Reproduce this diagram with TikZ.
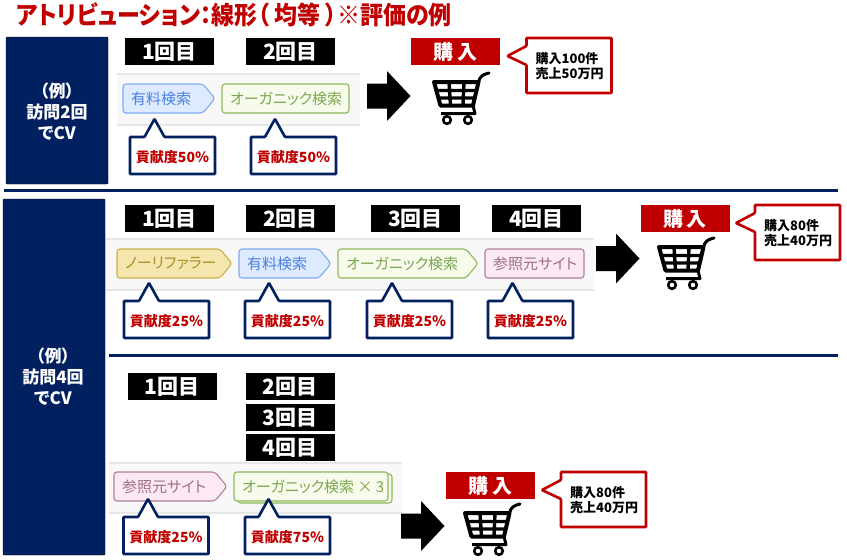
\documentclass[tikz,border=0pt]{standalone}
\usepackage{fontspec}
\setmainfont{Noto Sans CJK JP}[RawFeature=+palt]
\usetikzlibrary{calc}

\definecolor{navyblue}{HTML}{002060}
\definecolor{darkred}{HTML}{C00000}
\definecolor{bandgray}{HTML}{F8F8F8}
\definecolor{bandline}{HTML}{E6E6E6}
\definecolor{bluedraw}{HTML}{7FAAF5}
\definecolor{bluefill}{HTML}{DDEAFF}
\definecolor{bluetext}{HTML}{4A82DC}
\definecolor{greendraw}{HTML}{8DB85C}
\definecolor{greenfill}{HTML}{F6FBEB}
\definecolor{greentext}{HTML}{7DA650}
\definecolor{yellowdraw}{HTML}{CBB04F}
\definecolor{yellowfill}{HTML}{F4E6AC}
\definecolor{yellowtext}{HTML}{A88F2E}
\definecolor{pinkdraw}{HTML}{B07F9B}
\definecolor{pinkfill}{HTML}{FDE9F3}
\definecolor{pinktext}{HTML}{9E6E87}

\tikzset{
    px/.style={font=\bfseries\fontsize{#1}{#1}\selectfont},
    countbox/.style={fill=black, text=white, px=21, minimum width=89pt, minimum height=27pt, inner sep=0pt},
    buybox/.style={fill=darkred, text=white, px=20, minimum width=89pt, minimum height=27pt, inner sep=0pt},
    visitbox/.style={fill=navyblue, rounded corners=1pt},
    visittext/.style={text=white, px=17, align=center, inner sep=0pt},
    band/.style={fill=bandgray},
    bandedge/.style={draw=bandline, line width=1.5pt},
    bigarrow/.style={fill=black},
    rule/.style={draw=navyblue, line width=3pt},
    bluetag/.style={draw=bluedraw, fill=bluefill, text=bluetext},
    greentag/.style={draw=greendraw, fill=greenfill, text=greentext},
    yellowtag/.style={draw=yellowdraw, fill=yellowfill, text=yellowtext},
    pinktag/.style={draw=pinkdraw, fill=pinkfill, text=pinktext},
}

% source tag with a pointed right end
\newcommand{\arrowtag}[6]{
    \draw[#2, line width=1.1pt, rounded corners=3pt]
        (#3,#5) -- ($(#4,#5)+(-12,0)$) -- ($(#4,#5)+(0,14.5)$) -- ($(#4,#5)+(-12,29)$) -- ($(#3,#5)+(0,29)$) -- cycle;
    \node[#2, draw=none, fill=none, anchor=west, inner sep=0pt, font=\fontsize{15}{15}\selectfont] (#1) at ($(#3,#5)+(8,14.5)$) {#6};
}
% source tag with a plain round box
\newcommand{\roundtag}[6]{
    \draw[#2, line width=1.1pt, rounded corners=3pt] (#3,#5) rectangle ($(#4,#5)+(0,29)$);
    \node[#2, draw=none, fill=none, anchor=west, inner sep=0pt, font=\fontsize{15}{15}\selectfont] (#1) at ($(#3,#5)+(8,14.5)$) {#6};
}
% credit callout, the tip points up
\newcommand{\creditcallout}[5]{
    \draw[draw=navyblue, fill=white, line width=2.6pt, rounded corners=0.8pt]
        (#2,#3) -- ($(#4,#3)+(-10,0)$) -- ($(#4,#3)+(0,-18)$) -- ($(#4,#3)+(10,0)$) -- ($(#2,#3)+(85,0)$)
        -- ($(#2,#3)+(85,37)$) -- ($(#2,#3)+(0,37)$) -- cycle;
    \node[text=darkred, px=14, inner sep=0pt] (#1) at ($(#2,#3)+(42.5,20)$) {#5};
}
% purchase callout, the tip points left
\newcommand{\salescallout}[4]{
    \draw[draw=darkred, fill=white, line width=2.6pt, rounded corners=0.8pt]
        (#2,#3) -- ($(#2,#3)+(85,0)$) -- ($(#2,#3)+(85,55)$) -- ($(#2,#3)+(0,55)$)
        -- ($(#2,#3)+(0,27)$) -- ($(#2,#3)+(-19,18)$) -- ($(#2,#3)+(0,8)$) -- cycle;
    \node[px=13, align=left, anchor=west, inner sep=0pt] (#1) at ($(#2,#3)+(9,28)$) {#4};
}
% shopping cart, origin at its top left
\newcommand{\cart}[2]{
    \begin{scope}[shift={(#1,#2)}, line join=round]
        \draw[line width=4pt, fill=white] (2,10) -- (46.5,10) -- (41,33.5) -- (8.5,33.5) -- cycle;
        \draw[line width=3.4pt] (3.5,18.5) -- (45,18.5) (5.5,26) -- (43,26) (17,10) -- (18.5,33.5) (32,10) -- (31,33.5);
        \draw[line width=3pt, line cap=round] (46.5,10) .. controls (48,4) and (51,2.5) .. (57,1);
        \draw[line width=3pt] (41,33.5) -- (43,41.5) -- (9,41.5);
        \foreach \wheelx in {15,36}
            \draw[line width=2.6pt, fill=white] (\wheelx,48) circle (3.8pt);
    \end{scope}
}

\begin{document}
\begin{tikzpicture}[x=1pt, y=-1pt]
    \useasboundingbox (0,0) rectangle (847,560);

    % Title
    \node[anchor=west, text=darkred, px=25, inner sep=0pt] (title) at (16,15) {\scalebox{0.92}[1]{アトリビューション：線形（ 均等 ）※評価の例}};

    % Left boxes and rules
    \draw[visitbox] (6,37) rectangle (108,184);
    \draw[visitbox] (3,199) rectangle (105,555);
    \node[visittext] (visitone) at (57,112) {（例）\\[4pt]訪問2回\\[4pt]でCV};
    \node[visittext] (visittwo) at (53,377) {（例）\\[4pt]訪問4回\\[4pt]でCV};
    \draw[rule] (4,190.5) -- (838,190.5);
    \draw[rule] (109,355) -- (838,355);

    % Gray bands behind the tags
    \foreach \xa/\xb/\ya/\yb in {117/360/74/125, 106/594/239/290, 109/402/463/513} {
        \fill[band] (\xa,\ya) rectangle (\xb,\yb);
        \draw[bandedge] (\xa,\ya) -- (\xb,\ya) (\xa,\yb) -- (\xb,\yb);
    }

    % Visit count labels
    \node[countbox] (ca) at (169.5,51.5) {1回目};
    \node[countbox] (cb) at (290.5,51.5) {2回目};
    \node[countbox] (cc) at (169.5,218.5) {1回目};
    \node[countbox] (cd) at (290.5,218.5) {2回目};
    \node[countbox] (ce) at (415.5,218.5) {3回目};
    \node[countbox] (cf) at (536.5,218.5) {4回目};
    \node[countbox] (cg) at (172,386.5) {1回目};
    \node[countbox] (ch) at (290,386.5) {2回目};
    \node[countbox] (ci) at (290,417.5) {3回目};
    \node[countbox] (cj) at (290,447.5) {4回目};

    % Tags
    \arrowtag{ta}{bluetag}{123}{215}{84}{有料検索}
    \roundtag{tb}{greentag}{222}{349}{84}{オーガニック検索}
    \arrowtag{tc}{yellowtag}{117}{232}{249}{ノーリファラー}
    \arrowtag{td}{bluetag}{239}{331}{249}{有料検索}
    \arrowtag{te}{greentag}{338}{478}{249}{オーガニック検索}
    \roundtag{tf}{pinktag}{485}{584}{249}{参照元サイト}
    \arrowtag{tg}{pinktag}{114}{227}{472}{参照元サイト}
    \roundtag{thb}{greentag}{238}{392}{474}{}
    \roundtag{th}{greentag}{234}{388}{472}{オーガニック検索 × 3}

    % Credit callouts
    \creditcallout{ka}{130}{137}{154.5}{貢献度50％}
    \creditcallout{kb}{251}{137}{275}{貢献度50％}
    \creditcallout{kc}{124}{301}{149}{貢献度25％}
    \creditcallout{kd}{245}{301}{269}{貢献度25％}
    \creditcallout{ke}{367}{301}{392}{貢献度25％}
    \creditcallout{kf}{488}{301}{512.5}{貢献度25％}
    \creditcallout{kg}{123.5}{517}{148}{貢献度25％}
    \creditcallout{kh}{245}{517}{268.5}{貢献度75％}

    % Big arrows
    \foreach \ax/\ay in {367/96, 596/258.5, 401/526}
        \fill[bigarrow] (\ax,\ay-12.5) -- (\ax+20,\ay-12.5) -- (\ax+20,\ay-25) -- (\ax+43.5,\ay)
            -- (\ax+20,\ay+25) -- (\ax+20,\ay+12.5) -- (\ax,\ay+12.5) -- cycle;

    % Purchases
    \node[buybox] (ba) at (455.5,51.5) {購\,入};
    \node[buybox] (bb) at (685,218.5) {購\,入};
    \node[buybox] (bc) at (490.5,485.5) {購\,入};
    \cart{432}{72}
    \cart{657}{237}
    \cart{463}{503}
    \salescallout{sa}{526.5}{38}{購入100件\\[1.5pt]売上50万円}
    \salescallout{sb}{755}{205}{購入80件\\[1.5pt]売上40万円}
    \salescallout{sc}{561}{472}{購入80件\\[1.5pt]売上40万円}
\end{tikzpicture}
\end{document}
